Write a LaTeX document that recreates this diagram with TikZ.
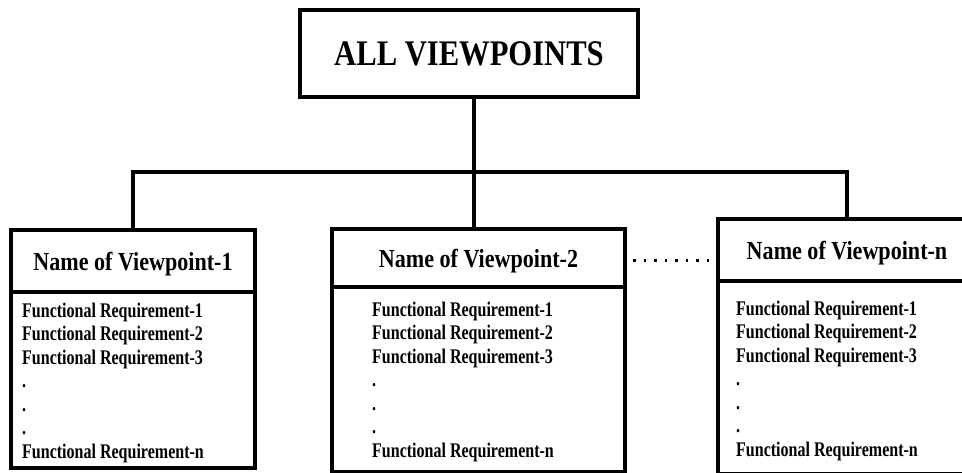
\documentclass[tikz,border=0pt]{standalone}
\usepackage{fontspec}
\setmainfont{Liberation Serif}
\newfontfamily\titlefont{Liberation Serif}[FakeStretch=0.85]
\newfontfamily\headfont{Liberation Serif}[FakeStretch=0.85]
\newfontfamily\reqfont{Liberation Serif}[FakeStretch=0.77]
\begin{document}
\begin{tikzpicture}[x=1pt,y=-1pt,
  box/.style={draw=black,line width=4pt,rectangle,inner sep=0pt,anchor=center},
  conn/.style={draw=black,line width=3.5pt},
  dotline/.style={draw=black,line width=3pt,dash pattern=on 2.5pt off 8pt},
  titletext/.style={font=\titlefont\bfseries\fontsize{36}{36}\selectfont},
  headtext/.style={font=\headfont\bfseries\fontsize{26}{26}\selectfont,text depth=0pt},
  fr/.style={font=\reqfont\bfseries\fontsize{20.8}{20.8}\selectfont,anchor=base west,inner sep=0pt}]
\useasboundingbox (0,0) rectangle (962,472);
\clip (0,0) rectangle (962,472);
\fill[white] (0,0) rectangle (962,472);

% top box
\node[box,titletext,minimum width=338pt,minimum height=87pt] (top) at (469,53.5) {ALL VIEWPOINTS};

% headers
\node[box,headtext,minimum width=244pt,minimum height=62pt] (h1) at (133,261) {Name of Viewpoint-1};
\node[box,headtext,minimum width=293pt,minimum height=58pt] (h2) at (478.5,258) {Name of Viewpoint-2};
\node[box,headtext,minimum width=258pt,minimum height=62pt] (hn) at (847,250) {Name of Viewpoint-n};

% bodies
\node[box,minimum width=244pt,minimum height=176pt] (b1) at (133,380) {};
\node[box,minimum width=293pt,minimum height=185pt] (b2) at (478.5,379.5) {};
\node[box,minimum width=258pt,minimum height=193pt] (bn) at (847,377.5) {};

% requirement lines
\foreach \bx/\x/\y in {1/22/317, 2/372/316, n/736/315}{
  \foreach \i/\txt in {0/Functional Requirement-1, 1/Functional Requirement-2, 2/Functional Requirement-3, 3/., 4/., 5/., 6/Functional Requirement-n}{
    \node[fr] (t\bx-\i) at (\x,{\y+23.5*\i}) {\txt};
  }
}

% connectors
\coordinate (j) at (474,172);
\draw[conn] (top.south -| j) -- (j);
\draw[conn,line cap=rect] (j) -| (h1.north);
\draw[conn,line cap=rect] (j) -| (hn.north);
\draw[conn] (j) -- (h2.north -| j);

% dotted link
\draw[dotline] ([xshift=6pt,yshift=-2pt]h2.east) -- ([yshift=-2pt]h2.east -| hn.west);
\end{tikzpicture}
\end{document}
